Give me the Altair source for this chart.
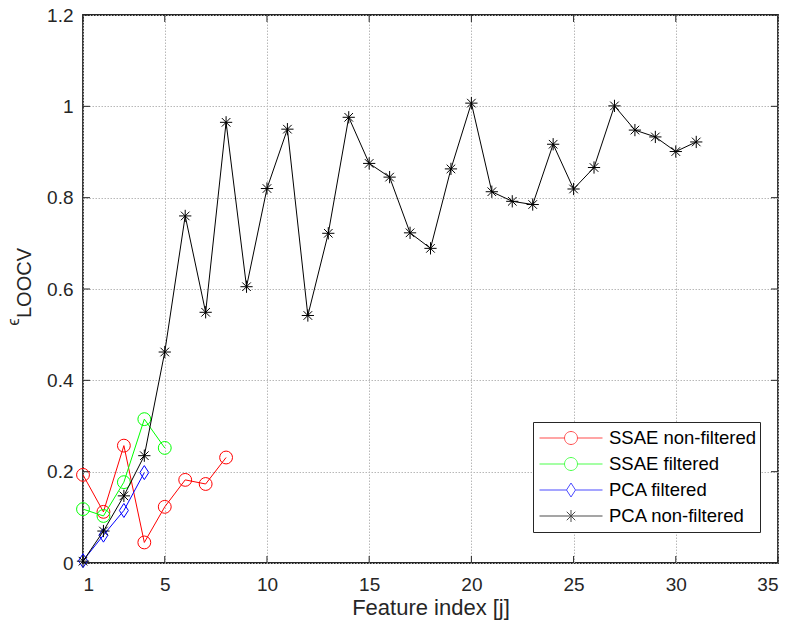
import altair as alt
import pandas as pd

# ---- data ----
names = ["SSAE non-filtered", "SSAE filtered", "PCA filtered", "PCA non-filtered"]
colors = ["#ff0000", "#00ff00", "#0000ff", "#000000"]

ssae_nf = [0.193, 0.112, 0.257, 0.045, 0.123, 0.182, 0.173, 0.231]
ssae_f = [0.118, 0.103, 0.177, 0.315, 0.252]
pca_f = [0.005, 0.061, 0.115, 0.198]
pca_nf = [0.004, 0.070, 0.147, 0.235, 0.462, 0.760, 0.549, 0.965, 0.605, 0.820,
          0.950, 0.542, 0.722, 0.976, 0.875, 0.845, 0.723, 0.689, 0.863, 1.007,
          0.813, 0.792, 0.785, 0.917, 0.819, 0.866, 1.001, 0.948, 0.933, 0.901, 0.922]

x_ticks = [1, 5, 10, 15, 20, 25, 30, 35]
y_ticks = [0, 0.2, 0.4, 0.6, 0.8, 1.0, 1.2]

W, H = 695, 548
FONT = "Liberation Sans"
AX = "#262626"

circle_path = "circle"
diamond_path = "M0,-1L0.64,0L0,1L-0.64,0Z"
star_path = "M-1,0L1,0M0,-1L0,1M-0.7,-0.7L0.7,0.7M-0.7,0.7L0.7,-0.7"

# legend symbols: line segment with the marker in the middle (unit box -1..1 = 63 px)
r = 0.206
leg_circle = (f"M-1,0L-{r},0M{r},0L1,0M-{r},0A{r},{r},0,1,1,{r},0A{r},{r},0,1,1,-{r},0")
leg_diamond = "M-1,0L-0.143,0M0.143,0L1,0M0,-0.222L0.143,0L0,0.222L-0.143,0Z"
leg_star = ("M-1,0L1,0M0,-0.19L0,0.19M-0.135,-0.135L0.135,0.135M-0.135,0.135L0.135,-0.135")
legend_paths = [leg_circle, leg_circle, leg_diamond, leg_star]

xs = alt.Scale(domain=[1, 35], nice=False, zero=False)
ys = alt.Scale(domain=[0, 1.2], nice=False, zero=False)

x_axis = alt.Axis(values=x_ticks, title="Feature index [j]", ticks=False, domain=False,
                  grid=True, gridColor="#b8b8b8", gridDash=[1.5, 1.5], gridWidth=1,
                  labelFont=FONT, labelFontSize=19, labelColor=AX, labelPadding=12,
                  titleFont=FONT, titleFontSize=22, titleFontWeight="normal",
                  titleColor=AX, titlePadding=3)
y_axis = alt.Axis(values=y_ticks, title=None, ticks=False, domain=False,
                  grid=True, gridColor="#b8b8b8", gridDash=[1.5, 1.5], gridWidth=1,
                  labelFont=FONT, labelFontSize=19, labelColor=AX, labelPadding=10,
                  labelExpr="format(datum.value, '~g')")


def series_layers(vals, color, shape, size):
    df = pd.DataFrame({"x": list(range(1, len(vals) + 1)), "y": vals})
    base = alt.Chart(df).encode(
        x=alt.X("x:Q", scale=xs, axis=x_axis),
        y=alt.Y("y:Q", scale=ys, axis=y_axis),
    )
    line = base.mark_line(strokeWidth=1, color=color)
    pts = base.mark_point(shape=shape, filled=False, size=size, strokeWidth=1,
                          opacity=1, color=color)
    return [line, pts]


layers = []
layers += series_layers(ssae_nf, colors[0], circle_path, 165)
layers += series_layers(ssae_f, colors[1], circle_path, 165)
layers += series_layers(pca_f, colors[2], diamond_path, 196)
layers += series_layers(pca_nf, colors[3], star_path, 150)

# legend carrier layer (rows have no y value, so nothing is drawn)
leg_df = pd.DataFrame({"x": [1, 1, 1, 1], "y": [None, None, None, None], "series": names})
leg_params = dict(title=None, orient="none", legendX=450, legendY=407,
                  padding=3, clipHeight=26, symbolSize=3969, symbolStrokeWidth=1,
                  symbolOffset=3, labelOffset=6,
                  labelFont=FONT, labelFontSize=18.5, labelColor="#000000", labelLimit=400,
                  fillColor="#ffffff", strokeColor=AX, rowPadding=0)
legend_layer = alt.Chart(leg_df).mark_point(filled=False, size=3969, strokeWidth=1).encode(
    x=alt.X("x:Q", scale=xs),
    y=alt.Y("y:Q", scale=ys),
    color=alt.Color("series:N", scale=alt.Scale(domain=names, range=colors),
                    legend=alt.Legend(**leg_params)),
    shape=alt.Shape("series:N", scale=alt.Scale(domain=names, range=legend_paths),
                    legend=alt.Legend(**leg_params)),
)

# inward tick marks on all four sides (MATLAB box style)
xt = pd.DataFrame({"v": x_ticks})
yt = pd.DataFrame({"v": y_ticks})
tick_style = dict(color=AX, strokeWidth=1)
t_bottom = alt.Chart(xt).mark_rule(**tick_style).encode(
    x=alt.X("v:Q", scale=xs), y=alt.value(H), y2=alt.value(H - 7))
t_top = alt.Chart(xt).mark_rule(**tick_style).encode(
    x=alt.X("v:Q", scale=xs), y=alt.value(0), y2=alt.value(7))
t_left = alt.Chart(yt).mark_rule(**tick_style).encode(
    y=alt.Y("v:Q", scale=ys), x=alt.value(0), x2=alt.value(7))
t_right = alt.Chart(yt).mark_rule(**tick_style).encode(
    y=alt.Y("v:Q", scale=ys), x=alt.value(W), x2=alt.value(W - 7))

# y-axis title: epsilon with subscript LOOCV
eps = alt.Chart(pd.DataFrame({"t": ["\u03f5"]})).mark_text(
    angle=270, font=FONT, fontSize=17, color=AX, align="center", baseline="middle"
).encode(text="t:N", x=alt.value(-69), y=alt.value(307))
loocv = alt.Chart(pd.DataFrame({"t": ["LOOCV"]})).mark_text(
    angle=270, font=FONT, fontSize=20, color=AX, align="center", baseline="middle"
).encode(text="t:N", x=alt.value(-58), y=alt.value(268))

chart = alt.layer(
    legend_layer, t_bottom, t_top, t_left, t_right, *layers, eps, loocv
).properties(
    width=W, height=H,
    autosize=alt.AutoSizeParams(type="none"),
    padding={"left": 83, "top": 15, "right": 13, "bottom": 69},
    background="#ffffff",
).configure_view(
    stroke=AX, strokeWidth=1.8
)

chart.save("out.html", embed_options={"renderer": "svg", "actions": False})
